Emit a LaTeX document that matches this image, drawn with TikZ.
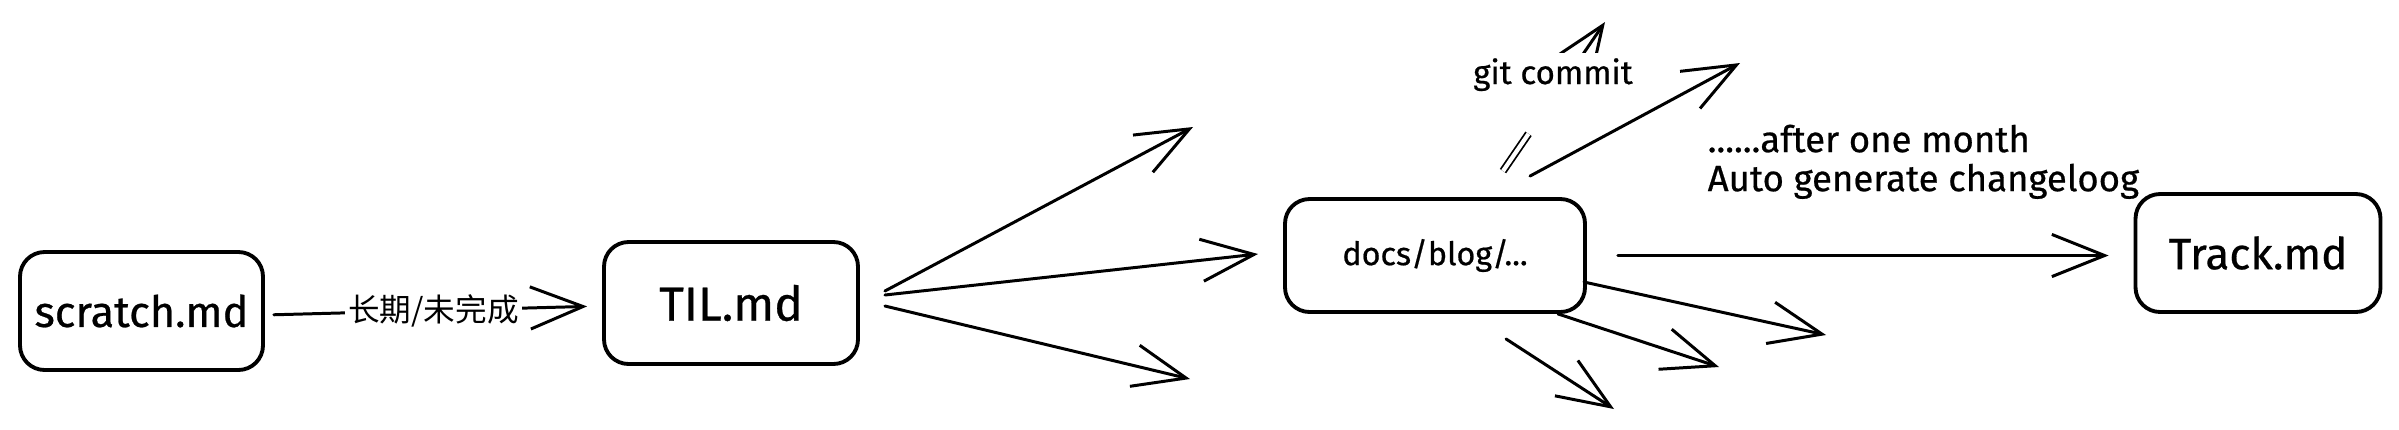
\documentclass[tikz,border=0pt]{standalone}
\usepackage{fontspec}
\setmainfont{Fira Sans}[FakeBold=0.6]
\newfontfamily\cjk{Noto Sans CJK SC}
\usetikzlibrary{arrows.meta,calc}

\begin{document}
\begin{tikzpicture}[
  box/.style={draw,line width=1.1pt,rounded corners=7pt,inner sep=0pt},
  arr/.style={line width=.85pt,line cap=round,-{Straight Barb[length=15pt,width=12pt,line width=.85pt]}},
  lbl/.style={font=\fontsize{10.4}{11.1}\selectfont,inner sep=0pt}]
\useasboundingbox (0,0) rectangle (23.99,4.29);
% files
\node[box,minimum width=2.43cm,minimum height=1.18cm,font=\fontsize{12.3}{14}\selectfont] (scratch) at (1.415,1.18) {scratch.md};
\node[box,minimum width=2.54cm,minimum height=1.22cm,font=\fontsize{13.6}{15}\selectfont] (til) at (7.31,1.26) {TIL.md};
\node[box,minimum width=3.00cm,minimum height=1.13cm,font=\fontsize{9.2}{11}\selectfont] (docs) at (14.35,1.735) {docs/blog/...};
\node[box,minimum width=2.45cm,minimum height=1.18cm,font=\fontsize{12.5}{14}\selectfont] (track) at (22.58,1.76) {Track.md};
% free arrow ends
\coordinate (t1) at (11.93,3.02);\coordinate (t2) at (12.58,1.75);\coordinate (t3) at (11.90,0.50);
\coordinate (up) at (17.40,3.66);
\coordinate (d1) at (18.26,0.94);\coordinate (d2) at (17.19,0.62);\coordinate (d3) at (16.14,0.20);
\coordinate (gitS) at ([shift={(.68,.26)}]docs.north);\coordinate (gitT) at (16.05,4.07);
% arrows
\draw[arr,shorten <=.09cm,shorten >=.15cm] ([yshift=-.04cm]scratch.east) -- ([yshift=-.03cm]til.west)
  node[midway,fill=white,inner xsep=.03cm,inner ysep=.05cm,font=\cjk\fontsize{9}{10}\selectfont] (long) {长期/未完成};
\draw[arr] ([shift={(.25,.12)}]til.east) -- (t1);
\draw[arr] ([shift={(.25,.08)}]til.east) -- (t2);
\draw[arr] ([shift={(.25,-.03)}]til.east) -- (t3);
\draw[arr,shorten >=.25cm] ([xshift=.31cm]docs.east) -- (track.west |- docs.east);
\draw[arr] ([shift={(.95,.21)}]docs.north) -- (up);
\draw[line width=.5pt,double,double distance=1.2pt] (gitS) -- ($(gitS)!.25!(gitT)$);
\draw[arr] ($(gitS)!.49!(gitT)$) -- (gitT);
\draw[arr] ([shift={(-.03,-.265)}]docs.east) -- (d1);
\draw[arr] ([xshift=1.23cm]docs.south) -- (d2);
\draw[arr] ([shift={(.71,-.25)}]docs.south) -- (d3);
% labels
\node[lbl,fill=white,anchor=base,font=\fontsize{9.4}{11}\selectfont,text height=.31cm,text depth=.2cm,inner xsep=.05cm] (git) at (15.53,3.45) {git commit};
\node[lbl,align=left,anchor=north west] (month) at (17.07,3.05) {......after one month\\Auto generate changeloog};
\end{tikzpicture}
\end{document}
